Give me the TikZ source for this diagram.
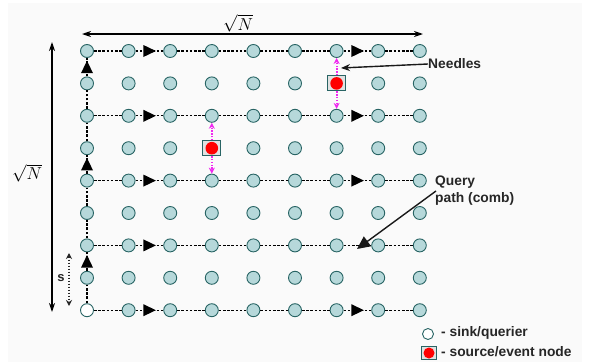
\documentclass[tikz,border=0pt]{standalone}
\usepackage{fontspec}
\setmainfont{Liberation Sans}
\usetikzlibrary{arrows.meta,decorations.markings}
\definecolor{nodefill}{RGB}{182,216,218}
\definecolor{nodeline}{RGB}{40,100,100}
\definecolor{panel}{RGB}{250,250,250}
\definecolor{boxfill}{RGB}{225,225,225}
\definecolor{needlecol}{RGB}{240,40,240}
\begin{document}
\begin{tikzpicture}[x=1pt,y=-1pt,
  grid/.style={circle, draw=nodeline, fill=nodefill, line width=0.9pt, minimum size=13pt, inner sep=0pt},
  sink/.style={circle, draw=nodeline, fill=white, line width=0.9pt, minimum size=13pt, inner sep=0pt},
  source/.style={rectangle, draw=nodeline, fill=boxfill, line width=0.9pt, minimum width=18pt, minimum height=15pt, inner sep=0pt,
    path picture={\fill[red] (path picture bounding box.center) circle (6.3pt);}},
  legsource/.style={source, minimum width=15pt, minimum height=13pt,
    path picture={\fill[red] (path picture bounding box.center) circle (5.5pt);}},
  pathline/.style={dash pattern=on 2.6pt off 1.6pt, line width=1.1pt, black},
  tri/.style={postaction={decorate}, decoration={markings,
    mark=at position 0.5 with {\fill[black] (6.5pt,0pt) -- (-6pt,6pt) -- (-6pt,-6pt) -- cycle;}}},
  needle/.style={needlecol, line width=2.2pt, dash pattern=on 1.4pt off 1.4pt, -{Stealth[length=6pt,width=6pt]}},
  lbl/.style={font=\fontsize{13.8}{17}\selectfont\bfseries, text=black!85, inner sep=0pt},
  dim/.style={line width=1.2pt, black, {Stealth[length=9pt,width=6pt]}-{Stealth[length=9pt,width=6pt]}},
  ptr/.style={line width=1.4pt, black!90},
  mathlbl/.style={font=\fontsize{17}{19}\selectfont, inner sep=0pt}
]
\fill[white] (0,0) rectangle (590,362);
\fill[panel] (8,3) rectangle (582,362);
\useasboundingbox (0,0) rectangle (590,362);

% grid nodes
\foreach \i in {0,...,8}{
  \foreach \j in {0,...,8}{
    \pgfmathtruncatemacro\code{\i*10+\j}
    \ifnum\code=8
      \node[sink] (n-\i-\j) at ({87+41.6*\i},{51+32.4*\j}) {};
    \else\ifnum\code=61
      \node[source] (n-\i-\j) at ({87+41.6*\i},{51+32.4*\j}) {};
    \else\ifnum\code=33
      \node[source] (n-\i-\j) at ({87+41.6*\i},{51+32.4*\j}) {};
    \else
      \node[grid] (n-\i-\j) at ({87+41.6*\i},{51+32.4*\j}) {};
    \fi\fi\fi
  }
}

% horizontal comb teeth
\foreach \j in {0,2,4,6,8}{
  \foreach \i in {0,...,7}{
    \pgfmathtruncatemacro\ni{\i+1}
    \pgfmathtruncatemacro\code{\i*10+\j}
    \ifnum\i=1
      \draw[pathline, tri] (n-\i-\j) -- (n-\ni-\j);
    \else\ifnum\code=66
      \draw[pathline] (n-\i-\j) -- (n-\ni-\j);
    \else\ifnum\i=6
      \draw[pathline, tri] (n-\i-\j) -- (n-\ni-\j);
    \else
      \draw[pathline] (n-\i-\j) -- (n-\ni-\j);
    \fi\fi\fi
  }
}

% vertical spine
\foreach \j in {0,...,7}{
  \pgfmathtruncatemacro\nj{\j+1}
  \ifnum\j=0
    \draw[pathline, tri] (n-0-\nj) -- (n-0-\j);
  \else\ifnum\j=3
    \draw[pathline, tri] (n-0-\nj) -- (n-0-\j);
  \else\ifnum\j=6
    \draw[pathline, tri] (n-0-\nj) -- (n-0-\j);
  \else
    \draw[pathline] (n-0-\nj) -- (n-0-\j);
  \fi\fi\fi
}

% needles
\draw[needle] (n-6-1) -- (n-6-0);
\draw[needle] (n-6-1) -- (n-6-2);
\draw[needle] (n-3-3) -- (n-3-2);
\draw[needle] (n-3-3) -- (n-3-4);

% dimension arrows
\coordinate (tl) at (82,34);
\coordinate (tr) at (423,34);
\draw[dim] (tl) -- (tr);
\node[mathlbl] (topN) at (238,23.5) {$\sqrt{N}$};
\coordinate (lt) at (52,42);
\coordinate (lb) at (52,312);
\draw[dim] (lt) -- (lb);
\node[mathlbl] (leftN) at (27,173) {$\sqrt{N}$};

% s spacing
\coordinate (st) at (69,253);
\coordinate (sb) at (69,306);
\draw[line width=1.3pt, black!85, dash pattern=on 1.5pt off 1.5pt, {Stealth[length=6pt,width=6pt]}-{Stealth[length=6pt,width=6pt]}] (st) -- (sb);
\node[font=\fontsize{13}{14}\selectfont\bfseries, text=black!85, inner sep=0pt] (slbl) at (61,278) {s};

% Needles label
\node[lbl, anchor=west] (needlesL) at (428,64) {Needles};
\coordinate (needletip) at (341,68);
\draw[ptr, -{Stealth[length=9pt,width=7pt]}] (needlesL.west) -- (needletip);

% Query label
\node[lbl, anchor=north west, align=left] (queryL) at (435,176) {Query\\path (comb)};
\coordinate (querytip) at (357,249);
\coordinate (querystart) at (436,191);
\draw[ptr, -{Triangle[length=13pt,width=12pt]}] (querystart) -- (querytip);

% legend
\node[sink, minimum size=11pt] (legsink) at (428,334) {};
\node[lbl, anchor=west] (legsinkL) at (441,333) {- sink/querier};
\node[legsource] (legsrc) at (429,353) {};
\node[lbl, anchor=west] (legsrcL) at (441,352) {- source/event node};
\end{tikzpicture}
\end{document}
